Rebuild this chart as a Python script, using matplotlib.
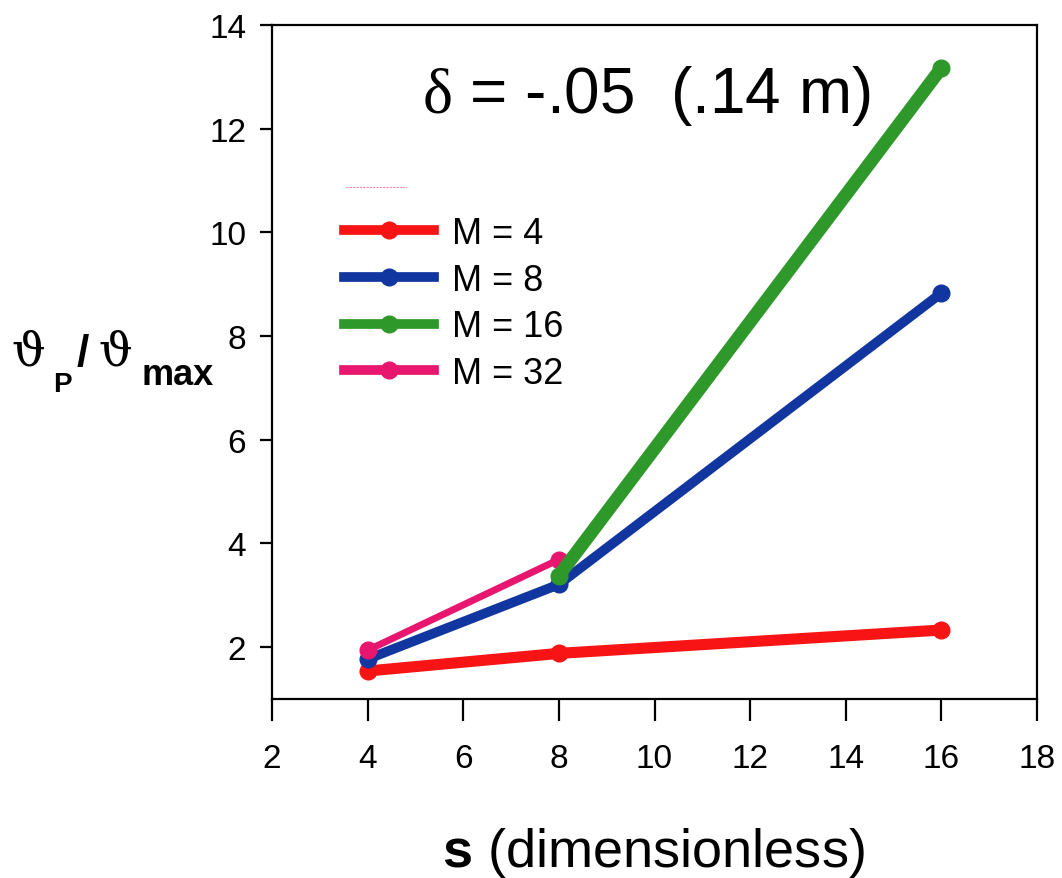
import matplotlib
matplotlib.use("Agg")
import matplotlib.pyplot as plt
from matplotlib.lines import Line2D

plt.rcParams['font.family'] = ['Liberation Sans', 'DejaVu Sans']
plt.rcParams['mathtext.fontset'] = 'custom'
plt.rcParams['mathtext.rm'] = 'Liberation Serif'
plt.rcParams['mathtext.it'] = 'Liberation Serif:italic'
plt.rcParams['mathtext.bf'] = 'Liberation Sans:bold'
plt.rcParams['mathtext.sf'] = 'Liberation Sans'

# Data: theta_P / theta_max versus s for several M
s_m4 = [4, 8, 16]
r_m4 = [1.54, 1.88, 2.33]
s_m8 = [4, 8, 16]
r_m8 = [1.77, 3.21, 8.83]
s_m16 = [8, 16]
r_m16 = [3.38, 13.17]
s_m32 = [4, 8]
r_m32 = [1.94, 3.69]

labels = ['M = 4', 'M = 8', 'M = 16', 'M = 32']
colors = ['#f81414', '#1236a0', '#2f982a', '#e8166e']
widths = [8.0, 7.0, 9.5, 5.0]

x_ticks = [2, 4, 6, 8, 10, 12, 14, 16, 18]
y_ticks = [2, 4, 6, 8, 10, 12, 14]

W, H = 1062, 879
fig = plt.figure(figsize=(W / 100, H / 100), dpi=100)
ax = fig.add_axes([272 / W, 1 - 700 / H, (1037 - 272) / W, (700 - 26) / H])

series = [(s_m4, r_m4), (s_m8, r_m8), (s_m16, r_m16), (s_m32, r_m32)]
zorders = [2, 3, 5, 4]
handles = []
for (xs, ys), lab, c, lw, z in zip(series, labels, colors, widths, zorders):
    ax.plot(xs, ys, color=c, lw=lw, marker='o', ms=12, mec=c, mfc=c,
            solid_capstyle='round', zorder=z, clip_on=False)
    handles.append(Line2D([], [], color=c, lw=7, marker='o', ms=12,
                          mec=c, mfc=c, label=lab))

ax.set_xlim(2, 18)
ax.set_ylim(1, 14)
ax.set_xticks(x_ticks)
ax.set_yticks(y_ticks)
ax.tick_params(axis='x', direction='out', length=16, width=1.6, pad=16,
               labelsize=24)
ax.tick_params(axis='y', direction='out', length=8.5, width=1.6, pad=10,
               labelsize=24)
for sp in ax.spines.values():
    sp.set_linewidth(1.6)

leg = ax.legend(handles=handles, loc='upper left',
                bbox_to_anchor=(0.075, 0.738), frameon=False,
                fontsize=26, handlelength=2.5, handletextpad=0.5,
                labelspacing=0.32, borderaxespad=0)

# faint pink stroke above the legend
ax.add_line(Line2D([0.097, 0.176], [0.759, 0.759], transform=ax.transAxes,
                   color='#f08aa8', lw=0.8, ls=(0, (2, 1))))

ax.text(0.489, 0.871, r'$\mathrm{\delta}$ = -.05  (.14 m)',
        transform=ax.transAxes, ha='center', va='baseline', fontsize=46)

fig.text(442 / W, 1 - 867 / H, r'$\mathbf{s}$ (dimensionless)',
         ha='left', va='baseline', fontsize=39)


def px_text(x, y, s, **kw):
    fig.text(x / W, 1 - y / H, s, ha='left', va='baseline', **kw)


serif = ['DejaVu Serif']
px_text(11, 365, '\u03d1', family=serif, fontsize=34)
px_text(53, 392, 'P', fontsize=20, weight='bold')
px_text(77, 366, '/', fontsize=32, weight='bold')
px_text(98, 365, '\u03d1', family=serif, fontsize=34)
px_text(142, 385, 'max', fontsize=26, weight='bold')

fig.savefig('out.png', dpi=100, facecolor='white')
